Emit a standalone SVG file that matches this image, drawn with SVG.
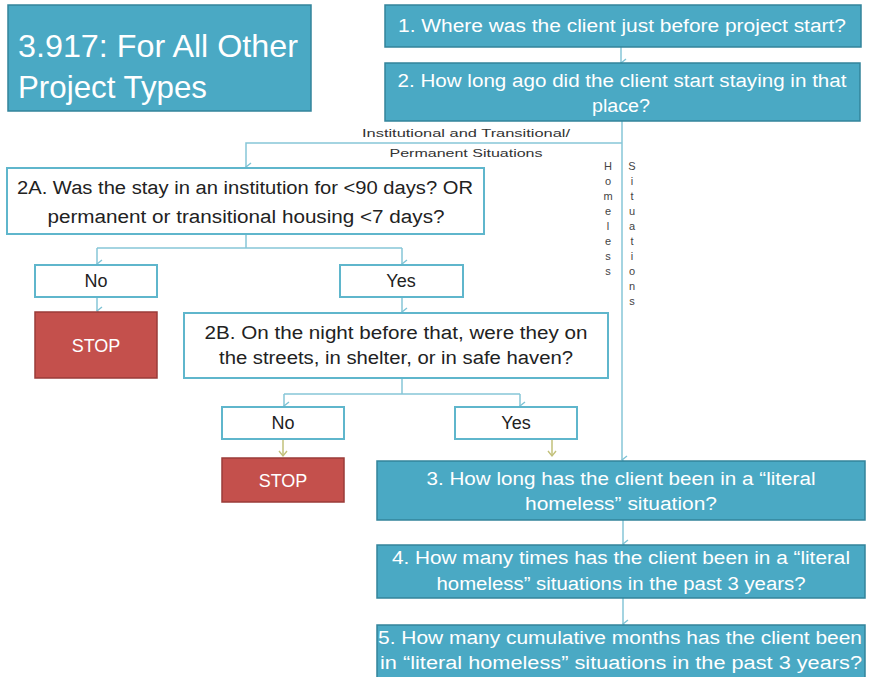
<svg xmlns="http://www.w3.org/2000/svg" width="869" height="677" viewBox="0 0 869 677">
<defs>
<marker id="arr" markerUnits="userSpaceOnUse" markerWidth="12" markerHeight="10" refX="5" refY="8" orient="auto-start-reverse" viewBox="0 0 10 10">
<path d="M1,3 L5,8 L9,3" fill="none" stroke="#7fc3d5" stroke-width="1.4"/>
</marker>
<marker id="arrY" markerUnits="userSpaceOnUse" markerWidth="12" markerHeight="10" refX="5" refY="8" viewBox="0 0 10 10">
<path d="M1,3 L5,8 L9,3" fill="none" stroke="#c2c07a" stroke-width="1.4"/>
</marker>
<style>
.teal{fill:#4aa9c4;stroke:#33849b;stroke-width:1.5}
.white{fill:#ffffff;stroke:#5fb6cc;stroke-width:2}
.red{fill:#c4504c;stroke:#9a3b38;stroke-width:1.5}
.wt{font-family:"Liberation Sans",Arial,sans-serif;fill:#ffffff;text-anchor:middle}
.dt{font-family:"Liberation Sans",Arial,sans-serif;fill:#222222;text-anchor:middle}
.conn{fill:none;stroke:#86c6d7;stroke-width:1.5}
.conny{fill:none;stroke:#c2c07a;stroke-width:1.5}
.lbl{font-family:"Liberation Sans",Arial,sans-serif;fill:#333333;font-size:11px;text-anchor:middle}
.vt{font-family:"Liberation Sans",Arial,sans-serif;fill:#444444;font-size:11px;text-anchor:middle}
</style>
</defs>
<rect width="869" height="677" fill="#ffffff"/>

<g id="connectors">
<path class="conn" d="M621,47 V63" marker-end="url(#arr)"/>
<path class="conn" d="M622,121 V460" marker-end="url(#arr)"/>
<path class="conn" d="M622,143 H246 V167" marker-end="url(#arr)"/>
<path class="conn" d="M246,234 V248"/>
<path class="conn" d="M97,248 H402"/>
<path class="conn" d="M97,248 V264" marker-end="url(#arr)"/>
<path class="conn" d="M402,248 V264" marker-end="url(#arr)"/>
<path class="conn" d="M97,298 V311" marker-end="url(#arr)"/>
<path class="conn" d="M402,297 V312" marker-end="url(#arr)"/>
<path class="conn" d="M402,379 V394"/>
<path class="conn" d="M284,394 H520"/>
<path class="conn" d="M284,394 V406" marker-end="url(#arr)"/>
<path class="conn" d="M520,394 V406" marker-end="url(#arr)"/>
<path class="conny" d="M283,440 V456" marker-end="url(#arrY)"/>
<path class="conny" d="M552,440 V456" marker-end="url(#arrY)"/>
<path class="conn" d="M623,520 V544" marker-end="url(#arr)"/>
<path class="conn" d="M623,598 V624" marker-end="url(#arr)"/>
<text class="lbl" x="466" y="137" textLength="208" lengthAdjust="spacingAndGlyphs">Institutional and Transitional/</text>
<text class="lbl" x="466" y="157" textLength="153" lengthAdjust="spacingAndGlyphs">Permanent Situations</text>
<g class="vt">
<text x="608" y="170">H</text><text x="608" y="185">o</text><text x="608" y="200">m</text><text x="608" y="215">e</text><text x="608" y="230">l</text><text x="608" y="245">e</text><text x="608" y="260">s</text><text x="608" y="275">s</text>
<text x="632" y="170">S</text><text x="632" y="185">i</text><text x="632" y="200">t</text><text x="632" y="215">u</text><text x="632" y="230">a</text><text x="632" y="245">t</text><text x="632" y="260">i</text><text x="632" y="275">o</text><text x="632" y="290">n</text><text x="632" y="305">s</text>
</g>
</g>

<g id="title">
<rect class="teal" x="8" y="5" width="303" height="106"/>
<text class="wt" x="158" y="57" font-size="32" textLength="280" lengthAdjust="spacingAndGlyphs" style="text-anchor:middle">3.917: For All Other</text>
<text x="18" y="98" font-family="Liberation Sans, Arial, sans-serif" font-size="32" fill="#ffffff" textLength="189" lengthAdjust="spacingAndGlyphs">Project Types</text>
</g>

<g id="q1">
<rect class="teal" x="385" y="5" width="476" height="42"/>
<text class="wt" x="622" y="32" font-size="18" textLength="448" lengthAdjust="spacingAndGlyphs">1. Where was the client just before project start?</text>
</g>

<g id="q2">
<rect class="teal" x="385" y="63" width="475" height="58"/>
<text class="wt" x="622" y="87" font-size="18" textLength="449" lengthAdjust="spacingAndGlyphs">2. How long ago did the client start staying in that</text>
<text class="wt" x="621" y="112" font-size="18" textLength="58" lengthAdjust="spacingAndGlyphs">place?</text>
</g>

<g id="q2a">
<rect class="white" x="7" y="168" width="477" height="66"/>
<text class="dt" x="245" y="194" font-size="18" textLength="456" lengthAdjust="spacingAndGlyphs">2A. Was the stay in an institution for &lt;90 days? OR</text>
<text class="dt" x="246" y="223" font-size="18" textLength="397" lengthAdjust="spacingAndGlyphs">permanent or transitional housing &lt;7 days?</text>
</g>

<g id="no1">
<rect class="white" x="35" y="265" width="122" height="32"/>
<text class="dt" x="96" y="287" font-size="18">No</text>
</g>

<g id="yes1">
<rect class="white" x="340" y="265" width="123" height="32"/>
<text class="dt" x="401" y="287" font-size="18">Yes</text>
</g>

<g id="stop1">
<rect class="red" x="35" y="312" width="122" height="66"/>
<text class="wt" x="96" y="352" font-size="18">STOP</text>
</g>

<g id="q2b">
<rect class="white" x="184" y="313" width="424" height="65"/>
<text class="dt" x="396" y="339" font-size="18" textLength="383" lengthAdjust="spacingAndGlyphs">2B. On the night before that, were they on</text>
<text class="dt" x="396" y="364" font-size="18" textLength="354" lengthAdjust="spacingAndGlyphs">the streets, in shelter, or in safe haven?</text>
</g>

<g id="no2">
<rect class="white" x="222" y="407" width="122" height="32"/>
<text class="dt" x="283" y="429" font-size="18">No</text>
</g>

<g id="yes2">
<rect class="white" x="455" y="407" width="122" height="32"/>
<text class="dt" x="516" y="429" font-size="18">Yes</text>
</g>

<g id="stop2">
<rect class="red" x="222" y="458" width="122" height="44"/>
<text class="wt" x="283" y="487" font-size="18">STOP</text>
</g>

<g id="q3">
<rect class="teal" x="377" y="461" width="488" height="59"/>
<text class="wt" x="621" y="485" font-size="18" textLength="389" lengthAdjust="spacingAndGlyphs">3. How long has the client been in a “literal</text>
<text class="wt" x="621" y="510" font-size="18" textLength="192" lengthAdjust="spacingAndGlyphs">homeless” situation?</text>
</g>

<g id="q4">
<rect class="teal" x="377" y="545" width="488" height="53"/>
<text class="wt" x="621" y="564" font-size="18" textLength="458" lengthAdjust="spacingAndGlyphs">4. How many times has the client been in a “literal</text>
<text class="wt" x="621" y="590" font-size="18" textLength="369" lengthAdjust="spacingAndGlyphs">homeless” situations in the past 3 years?</text>
</g>

<g id="q5">
<rect class="teal" x="377" y="625" width="488" height="58"/>
<text class="wt" x="620" y="644" font-size="18" textLength="484" lengthAdjust="spacingAndGlyphs">5. How many cumulative months  has the client been</text>
<text class="wt" x="621" y="669" font-size="18" textLength="482" lengthAdjust="spacingAndGlyphs">in “literal homeless” situations in the past 3 years?</text>
</g>
</svg>
